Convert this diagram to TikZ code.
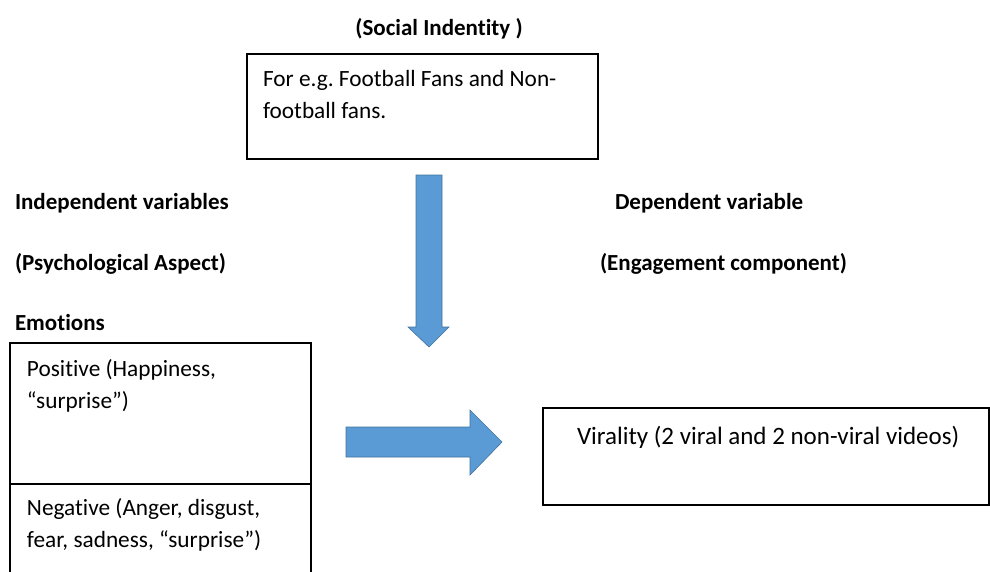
\documentclass[tikz,border=0pt]{standalone}
\usepackage{fontspec}
\setmainfont{Carlito}[Ligatures=CommonOff]
\usepackage{tikz}
\definecolor{arrowblue}{HTML}{5B9BD5}
\definecolor{arrowedge}{HTML}{41719C}
\frenchspacing

\begin{document}
\begin{tikzpicture}[x=1pt,y=-1pt,
                    every node/.style={inner sep=0pt,outer sep=0pt},
                    heading/.style={font=\fontsize{23}{27}\selectfont\bfseries,anchor=base west},
                    boxtext/.style={font=\fontsize{23.3}{32}\selectfont,anchor=north west,align=left},
                    frame/.style={draw,line width=1.2pt,anchor=north west},
                    blockarrow/.style={fill=arrowblue,draw=arrowedge,line width=0.6pt}]
  \useasboundingbox (0,0) rectangle (990,571);
  \node[heading,anchor=base] (social) at (439,35) {(Social Indentity )};
  \node[frame,minimum width=351,minimum height=105] (fansbox) at (247,54) {};
  \node[boxtext] (fans) at (263,70) {For e.g. Football Fans and Non-\\football fans.};
  \node[heading] (indep) at (15,209) {Independent variables};
  \node[heading] (psych) at (15,270) {(Psychological Aspect)};
  \node[heading] (emotions) at (15,330) {Emotions};
  \node[heading] (dep) at (615,209) {Dependent variable};
  \node[heading] (engage) at (600,270) {(Engagement component)};
  \node[frame,minimum width=301,minimum height=141] (posbox) at (10,343) {};
  \node[frame,minimum width=301,minimum height=100] (negbox) at (posbox.south west) {};
  \node[boxtext] (positive) at (27,359) {Positive (Happiness,\\“surprise”)};
  \node[boxtext] (negative) at (27,498) {Negative (Anger, disgust,\\fear, sadness, “surprise”)};
  \node[frame,minimum width=446,minimum height=97] (viralbox) at (543,408) {};
  \node[boxtext,font=\fontsize{25}{32}\selectfont] (virality) at (577,426) {Virality (2 viral and 2 non-viral videos)};
  \draw[blockarrow] (416,175) -- (442,175) -- (442,327) -- (449,327) -- (429,347)
                    -- (408,327) -- (416,327) -- cycle;
  \draw[blockarrow] (346,427) -- (470,427) -- (470,410) -- (502,442) -- (470,475)
                    -- (470,457) -- (346,457) -- cycle;
\end{tikzpicture}
\end{document}
